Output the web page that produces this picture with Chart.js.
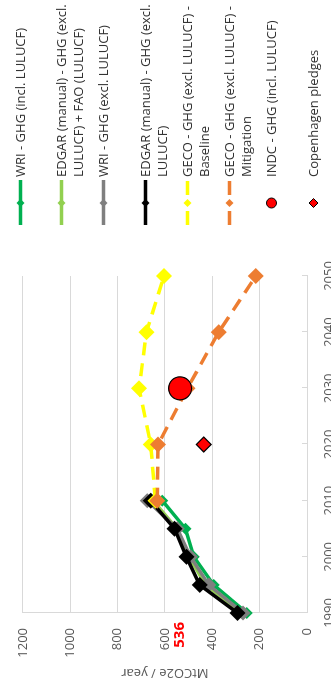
<!DOCTYPE html>
<html>
<head>
<meta charset="utf-8">
<script src="https://cdn.jsdelivr.net/npm/chart.js@4.4.0/dist/chart.umd.min.js"></script>
<style>
  html, body { margin: 0; padding: 0; background: #fff; overflow: hidden; }
  #frame {
    position: absolute; left: 0; top: 0; width: 693px; height: 331px;
    transform-origin: 0 0; transform: translateY(693px) rotate(-90deg);
    font-family: "Open Sans", sans-serif; background: #fff;
  }
  #chart { position: absolute; left: 0; top: 0; }
  .item { position: absolute; left: 466px; width: 227px; height: 40px; }
  .item svg { position: absolute; left: 0; top: 0; }
  .item span {
    position: absolute; left: 50px; top: 0; white-space: nowrap;
    font-size: 13px; line-height: 17px; color: #333333;
  }
</style>
</head>
<body>
<div id="frame">
  <canvas id="chart" width="693" height="331"></canvas>
  <div id="legend"></div>
</div>
<script>
// historical series (1990-2010)
var histYears = [1990, 1995, 2000, 2005, 2010];
var wriIncl = [254, 394, 478, 513, 611];
var edgarFao = [272, 428, 497, 550, 650];
var wriExcl = [270, 415, 492, 548, 674];
var edgarExcl = [293, 453, 509, 559, 660];

// GECO scenarios (2010-2050)
var gecoYears = [2010, 2020, 2030, 2040, 2050];
var gecoBaseline = [640, 660, 709, 678, 604];
var gecoMitigation = [632, 629, 505, 373, 216];

// single points
var indcYears = [2030];
var indcValues = [536];
var copenYears = [2020];
var copenValues = [436];

var yearTicks = [1990, 2000, 2010, 2020, 2030, 2040, 2050];
var valueTicks = [0, 200, 400, 600, 800, 1000, 1200];
var markedValue = 536;

var legendLabels = [
  'WRI - GHG (incl. LULUCF)',
  'EDGAR (manual) - GHG (excl.\nLULUCF) + FAO (LULUCF)',
  'WRI - GHG (excl. LULUCF)',
  'EDGAR (manual) - GHG (excl.\nLULUCF)',
  'GECO - GHG (excl. LULUCF) -\nBaseline',
  'GECO - GHG (excl. LULUCF) -\nMitigation',
  'INDC  - GHG (incl. LULUCF)',
  'Copenhagen pledges'
];

function pts(xs, ys) {
  return xs.map(function (x, i) { return {x: x, y: ys[i]}; });
}

var green = '#00b050', lightGreen = '#92d050', grey = '#7f7f7f',
    yellow = '#ffff00', orange = '#ed7d31', red = '#ff0000';

function lineSet(label, data, color, r, order, dash) {
  return {
    label: label, data: data, borderColor: color, backgroundColor: color,
    borderWidth: 3.5, borderDash: dash || [], pointStyle: 'rectRot',
    pointRadius: r, pointBorderWidth: 0, pointBackgroundColor: color,
    showLine: true, order: order, tension: 0, clip: false
  };
}

var datasets = [
  lineSet(legendLabels[0], pts(histYears, wriIncl), green, 6, 8),
  lineSet(legendLabels[1], pts(histYears, edgarFao), lightGreen, 6, 7),
  lineSet(legendLabels[2], pts(histYears, wriExcl), grey, 7.5, 6),
  lineSet(legendLabels[3], pts(histYears, edgarExcl), '#000000', 8, 5),
  lineSet(legendLabels[4], pts(gecoYears, gecoBaseline), yellow, 8, 4, [13, 8]),
  lineSet(legendLabels[5], pts(gecoYears, gecoMitigation), orange, 8, 3, [13, 8]),
  {
    label: legendLabels[6], data: pts(indcYears, indcValues), showLine: false,
    pointStyle: 'circle', pointRadius: 11.5, backgroundColor: red,
    borderColor: '#000', borderWidth: 1.2, order: 2, clip: false
  },
  {
    label: legendLabels[7], data: pts(copenYears, copenValues), showLine: false,
    pointStyle: 'rectRot', pointRadius: 7.5, backgroundColor: red,
    borderColor: '#000', borderWidth: 1.2, order: 1, clip: false
  }
];

// small inward tick marks on the year axis + the red 536 label
var extras = {
  id: 'extras',
  afterDraw: function (chart) {
    var c = chart.ctx, xs = chart.scales.x, ys = chart.scales.y;
    c.save();
    c.strokeStyle = '#d9d9d9';
    c.lineWidth = 1;
    yearTicks.forEach(function (t) {
      var px = Math.round(xs.getPixelForValue(t)) + 0.5;
      c.beginPath();
      c.moveTo(px, ys.bottom);
      c.lineTo(px, ys.bottom - 5);
      c.stroke();
    });
    c.fillStyle = red;
    c.font = 'bold 15px "Open Sans"';
    c.textAlign = 'right';
    c.textBaseline = 'middle';
    c.fillText(String(markedValue), ys.right - 9, ys.getPixelForValue(markedValue));
    c.restore();
  }
};

new Chart(document.getElementById('chart'), {
  type: 'scatter',
  data: {datasets: datasets},
  options: {
    responsive: false,
    animation: false,
    layout: {padding: {top: 22, right: 276, bottom: 0, left: 0}},
    plugins: {legend: {display: false}, tooltip: {enabled: false}},
    scales: {
      x: {
        type: 'linear', min: 1990, max: 2050,
        afterBuildTicks: function (s) { s.ticks = yearTicks.map(function (v) { return {value: v}; }); },
        afterFit: function (s) { s.height = 24; },
        grid: {display: false},
        border: {display: true, color: '#d9d9d9'},
        ticks: {
          color: '#595959', font: {family: 'Open Sans', size: 13}, padding: 6, maxRotation: 0,
          callback: function (v) { return String(v); }
        }
      },
      y: {
        min: 0, max: 1200,
        afterBuildTicks: function (s) { s.ticks = valueTicks.map(function (v) { return {value: v}; }); },
        afterFit: function (s) { s.width = 80; },
        grid: {color: '#d9d9d9', drawTicks: false},
        border: {display: true, color: '#d9d9d9'},
        ticks: {
          color: '#595959', font: {family: 'Open Sans', size: 13}, padding: 15,
          callback: function (v) { return String(v); }
        },
        title: {
          display: true, text: 'MtCO2e / year', color: '#595959',
          font: {family: 'Open Sans', size: 13}, padding: {top: 12, bottom: 0}
        }
      }
    }
  },
  plugins: [extras]
});

// legend (line sample + marker + wrapped text)
var legendColors = [green, lightGreen, grey, '#000000', yellow, orange, red, red];
var legend = document.getElementById('legend');
legendLabels.forEach(function (txt, i) {
  var cy = 20 + i * 41.9;
  var col = legendColors[i];
  var svg = '<svg width="48" height="17" viewBox="0 0 48 17">';
  if (i < 6) {
    var dash = i >= 4 ? ' stroke-dasharray="14 16 14"' : '';
    svg += '<line x1="2" y1="8.5" x2="47" y2="8.5" stroke="' + col + '" stroke-width="3.5"' + dash + '/>';
    svg += '<polygon points="20,8.5 24,4.5 28,8.5 24,12.5" fill="' + col + '"/>';
  } else if (i === 6) {
    svg += '<circle cx="24" cy="8.5" r="5" fill="' + red + '" stroke="#000" stroke-width="1"/>';
  } else {
    svg += '<polygon points="19.5,8.5 24,4 28.5,8.5 24,13" fill="' + red + '" stroke="#000" stroke-width="1"/>';
  }
  svg += '</svg>';
  var div = document.createElement('div');
  div.className = 'item';
  div.style.top = (cy - 8.5) + 'px';
  div.innerHTML = svg + '<span>' + txt.replace('\n', '<br>') + '</span>';
  legend.appendChild(div);
});
</script>
</body>
</html>
